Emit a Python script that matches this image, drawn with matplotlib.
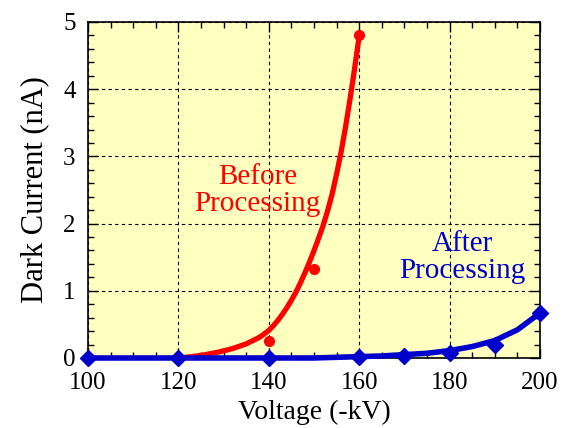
import matplotlib
matplotlib.use("Agg")
import matplotlib.pyplot as plt
from matplotlib.ticker import MultipleLocator

# Measured points
before_v = [140, 150, 160]
before_i = [0.25, 1.33, 4.8]
after_v = [100, 120, 140, 160, 170, 180, 190, 200]
after_i = [0.0, 0.0, 0.0, 0.02, 0.03, 0.08, 0.2, 0.67]

# Fitted curves
before_fit_v = [120, 123, 126, 129, 132, 135, 138, 140, 141, 142, 143, 144, 145, 146, 147, 148,
                149, 150, 151, 152, 153, 154, 155, 156, 157, 158, 159, 160]
before_fit_i = [0.0, 0.02, 0.05, 0.09, 0.14, 0.21, 0.31, 0.41, 0.48, 0.56, 0.65, 0.75, 0.86, 0.98,
                1.12, 1.27, 1.43, 1.6, 1.78, 1.97, 2.19, 2.44, 2.74, 3.07, 3.45, 3.87, 4.32, 4.8]
after_fit_v = [100, 150, 160, 165, 170, 175, 180, 185, 190, 195, 200]
after_fit_i = [0.0, 0.0, 0.02, 0.03, 0.05, 0.07, 0.11, 0.17, 0.26, 0.42, 0.67]

plt.rcParams['font.family'] = ['Liberation Serif', 'DejaVu Serif']

fig = plt.figure(figsize=(5.62, 4.28), dpi=100)
ax = fig.add_axes([0.1566, 0.1636, 0.961 - 0.1566, 0.9486 - 0.1636])
ax.set_facecolor('#FFFFC0')

ax.plot(before_fit_v, before_fit_i, color='#FF0000', lw=3.8, solid_capstyle='round',
        solid_joinstyle='round', zorder=3)
ax.plot(before_v, before_i, 'o', color='#FF0000', ms=7, zorder=4, clip_on=False)
ax.plot(after_fit_v, after_fit_i, color='#0000CC', lw=4.0, solid_capstyle='round',
        solid_joinstyle='round', zorder=5, clip_on=False)
ax.plot(after_v, after_i, 'D', color='#0000CC', ms=8, zorder=6, clip_on=False)

ax.set_xlim(100, 200)
ax.set_ylim(0, 5)
ax.xaxis.set_major_locator(MultipleLocator(20))
ax.xaxis.set_minor_locator(MultipleLocator(5))
ax.yaxis.set_major_locator(MultipleLocator(1))
ax.yaxis.set_minor_locator(MultipleLocator(0.2))
ax.tick_params(which='both', direction='in', top=True, right=True, labelsize=18)
ax.tick_params(which='major', length=7, width=1)
ax.tick_params(which='minor', length=4, width=1)
ax.tick_params(axis='x', pad=10)
ax.tick_params(axis='y', pad=9)
ax.grid(True, which='major', color='black', linestyle=(0, (3, 3)), linewidth=0.8)
for s in ax.spines.values():
    s.set_linewidth(1.2)

ax.set_xlabel('Voltage (-kV)', fontsize=20, labelpad=4)
ax.set_ylabel('Dark Current (nA)', fontsize=22, labelpad=10)

ax.text(137.5, 2.49, 'Before\nProcessing', color='#FF0000', fontsize=21, ha='center', va='center', linespacing=1.05)
ax.text(182.7, 1.5, 'After\nProcessing', color='#0000CC', fontsize=21, ha='center', va='center', linespacing=1.05)

fig.savefig('out.png', dpi=100)
